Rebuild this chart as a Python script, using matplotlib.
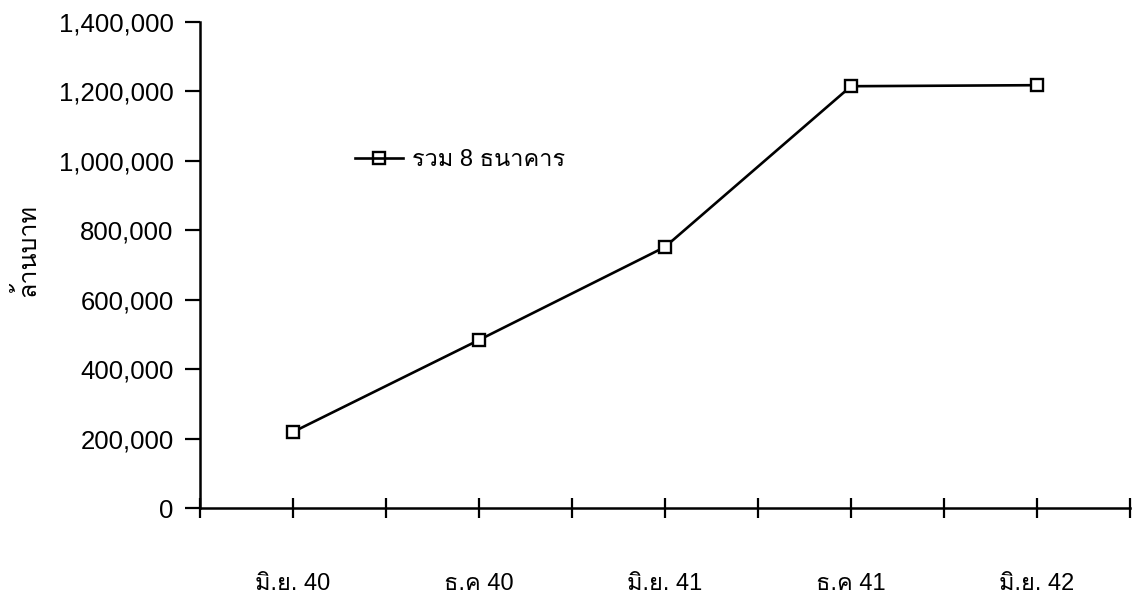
import matplotlib
matplotlib.use("Agg")
import matplotlib.pyplot as plt
from matplotlib import font_manager
from matplotlib.ft2font import FT2Font
from matplotlib.lines import Line2D
from matplotlib.ticker import FuncFormatter, MultipleLocator

# ---- data ----
categories = ["มิ.ย. 40", "ธ.ค 40", "มิ.ย. 41", "ธ.ค 41", "มิ.ย. 42"]
values = [219000, 484000, 752000, 1215000, 1218000]
series_name = "รวม 8 ธนาคาร"
y_label = "ล้านบาท"
y_ticks = [0, 200000, 400000, 600000, 800000, 1000000, 1200000, 1400000]

# ---- find a font that has Thai glyphs ----
thai_fam = None
for f in font_manager.fontManager.ttflist:
    try:
        ft = FT2Font(f.fname)
        if ft.get_char_index(ord("ร")) and ft.get_char_index(ord("ธ")):
            thai_fam = f.name
            break
    except Exception:
        pass
families = ["Liberation Sans"]
if thai_fam:
    families.append(thai_fam)
families.append("DejaVu Sans")
plt.rcParams["font.family"] = families

fig = plt.figure(figsize=(11.38, 6.07), dpi=100)
ax = fig.add_axes([200 / 1138, 1 - 508 / 607, 930 / 1138, 486 / 607])

x = list(range(len(categories)))
ax.plot(x, values, color="black", lw=1.9, marker="s", markersize=9,
        markerfacecolor="white", markeredgecolor="black", markeredgewidth=1.7)

ax.set_xlim(-0.5, len(categories) - 0.5)
ax.set_ylim(0, 1400000)
ax.set_yticks(y_ticks)
ax.yaxis.set_major_formatter(FuncFormatter(lambda v, p: f"{int(v):,}"))
ax.set_xticks(x)
ax.set_xticklabels(categories)
ax.xaxis.set_minor_locator(MultipleLocator(0.5))

for s in ["top", "right"]:
    ax.spines[s].set_visible(False)
for s in ["left", "bottom"]:
    ax.spines[s].set_linewidth(1.8)

ax.tick_params(axis="y", direction="out", length=11, width=1.6, pad=8,
               labelsize=18.5)
ax.tick_params(axis="x", which="both", direction="inout", length=14,
               width=1.6)
ax.tick_params(axis="x", which="major", pad=40, labelsize=17)

ax.set_ylabel(y_label, fontsize=18)
ax.yaxis.set_label_coords(-0.172, 0.53)

handle = Line2D([], [], color="black", lw=1.9, marker="s", markersize=9,
                markerfacecolor="none", markeredgecolor="black",
                markeredgewidth=1.7)
ax.legend([handle], [series_name], loc="center left",
          bbox_to_anchor=(0.167, 0.716), frameon=False,
          borderpad=0, borderaxespad=0, handlelength=2.0, handletextpad=0.4,
          fontsize=17)

fig.savefig("out.png", dpi=100)
